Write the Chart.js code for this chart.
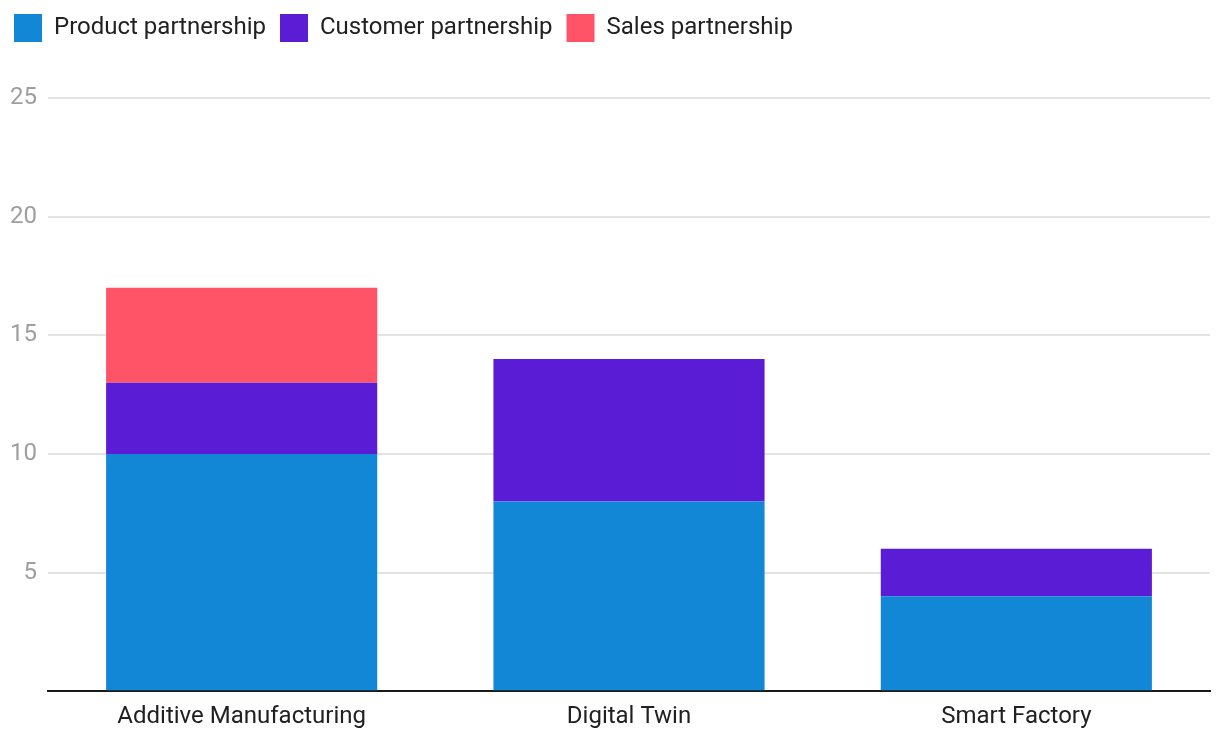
<!DOCTYPE html>
<html>
<head>
<meta charset="utf-8">
<script src="https://cdn.jsdelivr.net/npm/chart.js@4"></script>
<style>
  html, body { margin: 0; padding: 0; background: #fff; }
  #wrap { width: 1220px; height: 746px; position: relative; }
</style>
</head>
<body>
<div id="wrap"><canvas id="chart"></canvas></div>
<script>
// categories and series
const categories = ["Additive Manufacturing", "Digital Twin", "Smart Factory"];
const productPartnership = [10, 8, 4];
const customerPartnership = [3, 6, 2];
const salesPartnership = [4, 0, 0];
const yTicks = [5, 10, 15, 20, 25];

Chart.defaults.font.family = "Roboto, 'Noto Sans', sans-serif";

// push the plot area down below the legend
const legendGap = {
  id: "legendGap",
  beforeInit(chart) {
    const fit = chart.legend.fit;
    chart.legend.fit = function () {
      fit.bind(chart.legend)();
      this.height += 46;
    };
  }
};

const ctx = document.getElementById("chart").getContext("2d");
new Chart(ctx, {
  type: "bar",
  data: {
    labels: categories,
    datasets: [
      { label: "Product partnership", data: productPartnership, backgroundColor: "#1287d6" },
      { label: "Customer partnership", data: customerPartnership, backgroundColor: "#5a1cd4" },
      { label: "Sales partnership", data: salesPartnership, backgroundColor: "#ff5468" }
    ]
  },
  options: {
    responsive: true,
    maintainAspectRatio: false,
    animation: false,
    layout: { padding: { left: 0, right: 10, top: 0, bottom: 12 } },
    datasets: { bar: { categoryPercentage: 1, barPercentage: 0.7 } },
    plugins: {
      tooltip: { enabled: false },
      legend: {
        position: "top",
        align: "start",
        labels: {
          boxWidth: 28,
          boxHeight: 28,
          color: "#212121",
          padding: 14,
          font: { size: 24 }
        }
      }
    },
    scales: {
      x: {
        stacked: true,
        grid: { display: false },
        border: { display: true, color: "#1a1a1a", width: 2 },
        ticks: { color: "#212121", font: { size: 24 }, padding: 3 }
      },
      y: {
        stacked: true,
        min: 0,
        max: 25,
        afterBuildTicks: axis => { axis.ticks = [0].concat(yTicks).map(v => ({ value: v })); },
        afterFit: axis => { axis.width = 48; },
        grid: { color: "#e3e3e3", lineWidth: 2, drawTicks: false },
        border: { display: false },
        ticks: {
          color: "#9e9e9e",
          font: { size: 24 },
          padding: 11,
          callback: v => v === 0 ? "" : v
        }
      }
    }
  },
  plugins: [legendGap]
});
</script>
</body>
</html>
